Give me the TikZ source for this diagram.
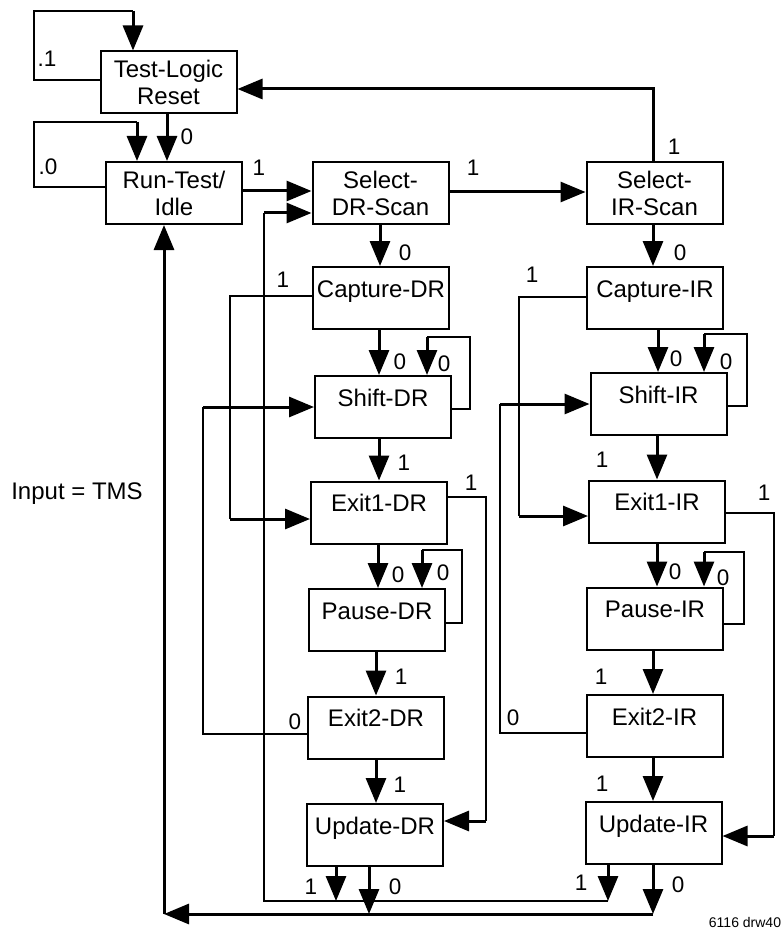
\documentclass[tikz,border=0pt]{standalone}
\usepackage{fontspec}
\setmainfont{Liberation Sans}
\usetikzlibrary{arrows.meta}
\newcommand\stfont{\fontsize{24}{27}\selectfont}
\newcommand\lbfont{\fontsize{22.5}{26}\selectfont}
\begin{document}
\begin{tikzpicture}[x=1pt,y=-1pt,
  state/.style={draw, line width=2pt, minimum width=136pt, minimum height=62pt, inner sep=0pt, font=\stfont},
  one/.style={text height=8pt, text depth=10pt},
  two/.style={align=center},
  thk/.style={line width=3pt},
  thn/.style={line width=2pt},
  arr/.style={-{Triangle[length=25pt,width=20pt]}},
  lb/.style={inner sep=0pt, font=\lbfont},
  line join=miter]
\useasboundingbox (0,0) rectangle (783,933);

% states
\node[state,two] (TLR) at (168.5,82.5) {Test-Logic\\Reset};
\node[state,two] (RTI) at (174,193) {Run-Test/\\Idle};
\node[state,two] (SDR) at (380.5,193) {Select-\\DR-Scan};
\node[state,two] (SIR) at (654.5,193) {Select-\\IR-Scan};
\node[state,one] (CDR) at (381,298) {Capture-DR};
\node[state,one] (SHDR) at (383,407) {Shift-DR};
\node[state,one] (EADR) at (379,512.5) {Exit1-DR};
\node[state,one] (PDR) at (377,620) {Pause-DR};
\node[state,one] (EBDR) at (376,727.5) {Exit2-DR};
\node[state,one] (UDR) at (375,835) {Update-DR};
\node[state,one] (CIR) at (655,298) {Capture-IR};
\node[state,one] (SHIR) at (658.5,404) {Shift-IR};
\node[state,one] (EAIR) at (657,511.5) {Exit1-IR};
\node[state,one] (PIR) at (655,618.5) {Pause-IR};
\node[state,one] (EBIR) at (654.5,726) {Exit2-IR};
\node[state,one] (UIR) at (653.5,833) {Update-IR};

% Test-Logic-Reset
\draw[thn] (TLR.west |- 0,80) -- (34,80) -- (34,11) -- (133,11);
\draw[thk,arr] (133,11) -- (TLR.north -| 133,0);
\draw[thk,arr] (TLR.south -| 167,0) -- (RTI.north -| 167,0);
% Run-Test/Idle
\draw[thn] (RTI.west |- 0,187) -- (34,187) -- (34,122) -- (137,122);
\draw[thk,arr] (137,122) -- (RTI.north -| 137,0);
\draw[thk,arr] (RTI.east |- 0,191) -- (SDR.west |- 0,191);
% Select
\draw[thk,arr] (SDR.east |- 0,192) -- (SIR.west |- 0,192);
\draw[thk,arr] (SIR.north -| 653,0) -- (653,89) -- (TLR.east |- 0,89);
\draw[thk,arr] (SDR.south -| 380,0) -- (CDR.north -| 380,0);
\draw[thk,arr] (SIR.south -| 653,0) -- (CIR.north -| 653,0);

% DR column
\draw[thk,arr] (CDR.south -| 379,0) -- (SHDR.north -| 379,0);
\draw[thn] (SHDR.east |- 0,409) -- (470,409) -- (470,337) -- (427,337);
\draw[thk,arr] (427,337) -- (SHDR.north -| 427,0);
\draw[thk,arr] (SHDR.south -| 379,0) -- (EADR.north -| 379,0);
\draw[thn] (CDR.west |- 0,296) -- (230,296) -- (230,519);
\draw[thk,arr] (230,519) -- (EADR.west |- 0,519);
\draw[thk,arr] (EADR.south -| 378,0) -- (PDR.north -| 378,0);
\draw[thn] (PDR.east |- 0,623) -- (462,623) -- (462,550) -- (422,550);
\draw[thk,arr] (422,550) -- (PDR.north -| 422,0);
\draw[thn] (EADR.east |- 0,497) -- (486,497) -- (486,821);
\draw[thk,arr] (486,821) -- (UDR.east |- 0,821);
\draw[thk,arr] (PDR.south -| 376,0) -- (EBDR.north -| 376,0);
\draw[thn] (EBDR.west |- 0,734) -- (203,734) -- (203,407);
\draw[thk,arr] (203,407) -- (SHDR.west |- 0,407);
\draw[thk,arr] (EBDR.south -| 376,0) -- (UDR.north -| 376,0);
\draw[thk,arr] (UDR.south -| 336,0) -- (336,901);
\draw[thk,arr] (UDR.south -| 369,0) -- (369,914);

% IR column
\draw[thk,arr] (CIR.south -| 658,0) -- (SHIR.north -| 658,0);
\draw[thn] (SHIR.east |- 0,406) -- (747,406) -- (747,334) -- (704,334);
\draw[thk,arr] (704,334) -- (SHIR.north -| 704,0);
\draw[thk,arr] (SHIR.south -| 657,0) -- (EAIR.north -| 657,0);
\draw[thn] (CIR.west |- 0,297) -- (519,297) -- (519,516);
\draw[thk,arr] (519,516) -- (EAIR.west |- 0,516);
\draw[thk,arr] (EAIR.south -| 657,0) -- (PIR.north -| 657,0);
\draw[thn] (PIR.east |- 0,624) -- (744,624) -- (744,552) -- (704,552);
\draw[thk,arr] (704,552) -- (PIR.north -| 704,0);
\draw[thn] (EAIR.east |- 0,513) -- (774,513) -- (774,836);
\draw[thk,arr] (774,836) -- (UIR.east |- 0,836);
\draw[thk,arr] (PIR.south -| 653,0) -- (EBIR.north -| 653,0);
\draw[thn] (EBIR.west |- 0,733) -- (500,733) -- (500,404);
\draw[thk,arr] (500,404) -- (SHIR.west |- 0,404);
\draw[thk,arr] (EBIR.south -| 653,0) -- (UIR.north -| 653,0);
\draw[thk,arr] (UIR.south -| 608,0) -- (608,901);
\draw[thk,arr] (UIR.south -| 653,0) -- (653,914);

% return lines
\coordinate (ub) at (264,901);
\draw[thn] (608,901) -- (ub) -- (264,213);
\draw[thk,arr] (264,213) -- (SDR.west |- 0,213);
\coordinate (bl) at (164,914);
\draw[thk,arr] (653,914) -- (bl);
\draw[thk,arr] (bl) -- (RTI.south -| 164,0);

% labels
\node[lb] (l01) at (47,58.5) {.1};
\node[lb] (l02) at (187,137) {0};
\node[lb] (l03) at (48,167) {.0};
\node[lb] (l04) at (259,168) {1};
\node[lb] (l05) at (473,168) {1};
\node[lb] (l06) at (674,147) {1};
\node[lb] (l07) at (405,253) {0};
\node[lb] (l08) at (680,253) {0};
\node[lb] (l09) at (283,280) {1};
\node[lb] (l10) at (400,362) {0};
\node[lb] (l11) at (444,364) {0};
\node[lb] (l12) at (404,463) {1};
\node[lb] (l13) at (471,483) {1};
\node[lb] (l14) at (398,575) {0};
\node[lb] (l15) at (443,573) {0};
\node[lb] (l16) at (401,677) {1};
\node[lb] (l17) at (295,722) {0};
\node[lb] (l18) at (400,785) {1};
\node[lb] (l19) at (311,887) {1};
\node[lb] (l20) at (395,887) {0};
\node[lb] (l21) at (532,275) {1};
\node[lb] (l22) at (676,359) {0};
\node[lb] (l23) at (726,362) {0};
\node[lb] (l24) at (602,460) {1};
\node[lb] (l25) at (764,493) {1};
\node[lb] (l26) at (675,572) {0};
\node[lb] (l27) at (723,578) {0};
\node[lb] (l28) at (601,677) {1};
\node[lb] (l29) at (513,718) {0};
\node[lb] (l30) at (602,784) {1};
\node[lb] (l31) at (581,883) {1};
\node[lb] (l32) at (678,885) {0};

\node[font=\stfont, inner sep=0pt] (inp) at (77,494) {Input = TMS};
\node[font=\fontsize{14}{16}\selectfont, inner sep=0pt] (drw) at (745,922) {6116 drw40};
\end{tikzpicture}
\end{document}
